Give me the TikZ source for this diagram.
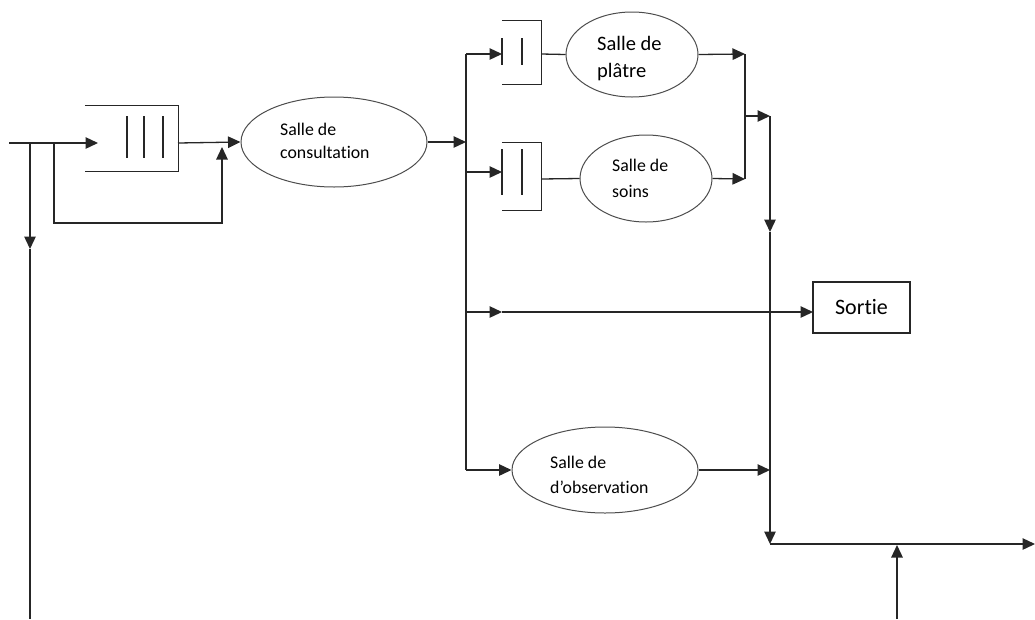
\documentclass[tikz,border=0pt]{standalone}
\usepackage{fontspec}
\setmainfont{Carlito}[Ligatures={NoCommon}]
\usetikzlibrary{arrows.meta,shapes.geometric}
\begin{document}
\begin{tikzpicture}[x=1pt,y=-1pt,
  ln/.style={line width=1.3pt,draw=black!85},
  arr/.style={ln,-{Triangle[length=12.5pt,width=11.5pt]}},
  room/.style={ellipse,draw=black!70,line width=1pt,inner sep=0pt},
  qbox/.style={inner sep=0pt},
  lab/.style={inner sep=0pt,anchor=base west,font=\fontsize{17.8}{21}\selectfont},
  labb/.style={inner sep=0pt,anchor=base west,font=\fontsize{20.5}{24}\selectfont},
  outbox/.style={draw=black!85,line width=1.2pt,inner sep=0pt,font=\fontsize{22}{26}\selectfont}
]
\useasboundingbox (0,0) rectangle (1035,619);

% coordinates
\coordinate (in) at (9,143);
\coordinate (j0) at (30,143);
\coordinate (j1) at (54,143);
\coordinate (q1in) at (98,143);
\coordinate (d1) at (30,249);
\coordinate (bl) at (30,619);
\coordinate (fbc) at (54,223);
\coordinate (fbt) at (222,147);
\coordinate (q1out) at (178,143);

% queue 1
\node[qbox,minimum width=93pt,minimum height=65pt] (q1) at (131.5,138.5) {};
\draw[ln] (q1.north west) -- (q1.north east) -- (q1.south east) -- (q1.south west);
\draw[ln] (127,116) -- (127,158) (144,116) -- (144,158) (163,116) -- (163,158);

% ellipses
\node[room,minimum width=186pt,minimum height=90pt] (e1) at (334,142) {};
\node[room,minimum width=132pt,minimum height=85pt] (e2) at (632,54.5) {};
\node[room,minimum width=132pt,minimum height=87pt] (e3) at (646,178.5) {};
\node[room,minimum width=186pt,minimum height=86pt] (e4) at (605,470) {};

% labels
\node[lab] (t1a) at (280,135) {Salle de};
\node[lab] (t1b) at (280,158) {consultation};
\node[labb] (t2a) at (597,50) {Salle de};
\node[labb] (t2b) at (597,77) {plâtre};
\node[lab] (t3a) at (612,171.5) {Salle de};
\node[lab] (t3b) at (612,197) {soins};
\node[lab] (t4a) at (550,468) {Salle de};
\node[lab] (t4b) at (550,493) {d’observation};

% Sortie
\node[outbox,minimum width=97pt,minimum height=51pt] (sortie) at (861.5,307.5) {Sortie};

% queues 2 and 3
\node[qbox,minimum width=39pt,minimum height=63pt] (q2) at (521.5,52.5) {};
\draw[ln] (q2.north west) -- (q2.north east) -- (q2.south east) -- (q2.south west);
\draw[ln] (502,38) -- (502,65) (522,38) -- (522,65);
\node[qbox,minimum width=39pt,minimum height=67pt] (q3) at (521.5,176.5) {};
\draw[ln] (q3.north west) -- (q3.north east) -- (q3.south east) -- (q3.south west);
\draw[ln] (502,149) -- (502,195) (522,149) -- (522,195);

% junction coordinates
\coordinate (j2) at (466,142);
\coordinate (vt) at (466,54);
\coordinate (v2) at (466,172);
\coordinate (v3) at (466,312);
\coordinate (vb) at (466,470);
\coordinate (q2in) at (502,54);
\coordinate (q3in) at (502,172);
\coordinate (s1) at (502,312);
\coordinate (sin) at (813,312);
\coordinate (r1) at (745,54);
\coordinate (r2) at (745,179);
\coordinate (r3) at (745,116);
\coordinate (c1) at (770,116);
\coordinate (c2) at (770,232);
\coordinate (c3) at (770,544);
\coordinate (c4) at (770,470);
\coordinate (out) at (1035,544);
\coordinate (u0) at (897,619);
\coordinate (u1) at (897,545);

% left part
\draw[arr] (in) -- (q1in);
\draw[arr] (j0) -- (d1);
\draw[ln] (d1) -- (bl);
\draw[arr] (j1) -- (fbc) -| (fbt);
\draw[arr] (q1out) -- (e1.west);
\draw[arr] (e1.east) -- (j2);

% distribution
\draw[ln] (vt) -- (vb);
\draw[arr] (vt) -- (q2in);
\draw[ln] (q2.east |- vt) -- (e2.west);
\draw[arr] (v2) -- (q3in);
\draw[ln] (541,179) -- (e3.west);
\draw[arr] (v3) -- (s1);
\draw[arr] (s1) -- (sin);
\draw[arr] (vb) -- (e4.west);

% right part
\draw[arr] (e2.east) -- (r1);
\draw[arr] (e3.east) -- (r2);
\draw[ln] (r1) -- (r2);
\draw[arr] (r3) -- (c1);
\draw[arr] (c1) -- (c2);
\draw[arr] (c2) -- (c3);
\draw[arr] (e4.east) -- (c4);
\draw[arr] (c3) -- (out);
\draw[arr] (u0) -- (u1);
\end{tikzpicture}
\end{document}
